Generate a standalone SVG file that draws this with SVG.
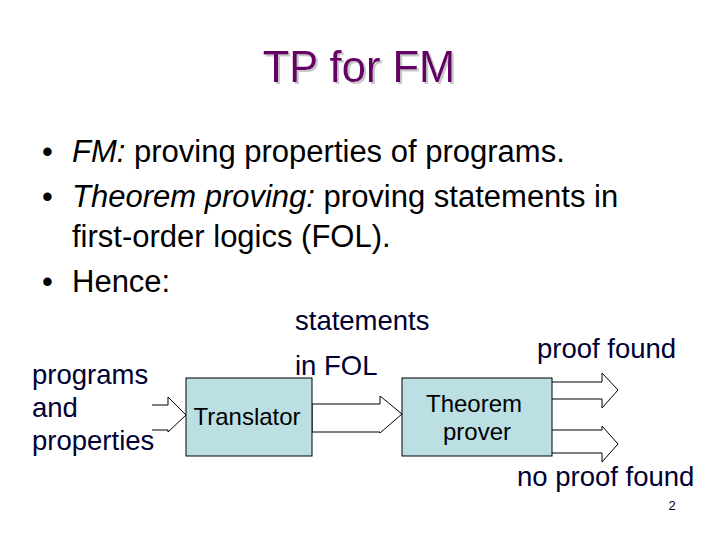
<svg xmlns="http://www.w3.org/2000/svg" width="720" height="540" viewBox="0 0 720 540">
<defs><filter id="sh" x="-10%" y="-10%" width="130%" height="140%"><feDropShadow dx="2" dy="2" stdDeviation="0.5" flood-color="#c8c8c8"/></filter></defs>
<style>
text{font-family:"Liberation Sans",Arial,sans-serif}
.b{font-size:31px;fill:#000}
.d{font-size:27.5px;fill:#000033}
.box{fill:#bbdfe3;stroke:#000;stroke-width:1}
.arr{fill:#fff;stroke:#000;stroke-width:1}
.n{font-size:24px;fill:#000}
</style>
<rect width="720" height="540" fill="#fff"/>
<text x="359" y="82" text-anchor="middle" font-size="43.5" fill="#660066" filter="url(#sh)">TP for FM</text>
<text class="b" x="42" y="162">•</text>
<text class="b" x="72" y="162"><tspan font-style="italic">FM:</tspan> proving properties of programs.</text>
<text class="b" x="42" y="207">•</text>
<text class="b" x="72" y="207"><tspan font-style="italic">Theorem proving:</tspan> proving statements in</text>
<text class="b" x="72" y="247">first-order logics (FOL).</text>
<text class="b" x="42" y="292">•</text>
<text class="b" x="72" y="292">Hence:</text>
<g id="labels">
<text class="d" x="295" y="330">statements</text>
<text class="d" x="295" y="375">in FOL</text>
<text class="d" x="32" y="384">programs</text>
<text class="d" x="32" y="417">and</text>
<text class="d" x="32" y="450">properties</text>
<text class="d" x="537" y="358">proof found</text>
<text class="d" x="517" y="486">no proof found</text>
</g>
<g id="connectors">
<path class="arr" d="M152,405 H168 V397 L186,415 L168,432 V430 H152"/>
<path class="arr" d="M312,404 H380 V396 L402,414 L380,433 V432 H312 Z"/>
<path class="arr" d="M552,382 H602 V373 L618,390 L602,408 V399 H552"/>
<path class="arr" d="M552,430 H602 V426 L618,444 L602,462 V453 H552"/>
</g>
<g id="translator"><rect class="box" x="186" y="378" width="126" height="78"/><text class="n" x="247" y="425" text-anchor="middle">Translator</text></g>
<g id="prover"><rect class="box" x="402" y="378" width="150" height="78"/><text class="n" x="474" y="412" text-anchor="middle">Theorem</text><text class="n" x="477" y="440" text-anchor="middle">prover</text></g>
<text x="672" y="510" text-anchor="middle" font-size="13" fill="#000">2</text>
</svg>
